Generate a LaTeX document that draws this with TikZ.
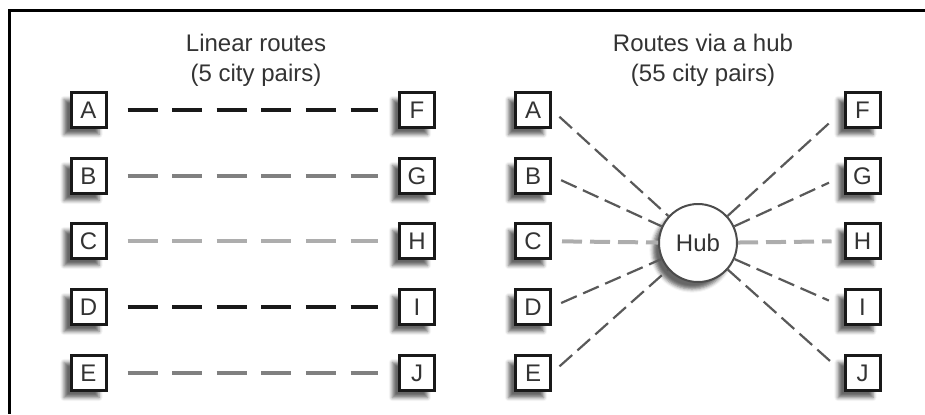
\documentclass[tikz,border=0pt]{standalone}
\usepackage{fontspec}
\setmainfont{Liberation Sans}
\usetikzlibrary{shadows.blur}

\begin{document}
\begin{tikzpicture}[x=0.5pt,y=-0.5pt,
  city/.style={draw=black!90,line width=1.5pt,fill=white,minimum size=17.5pt,inner sep=0pt,
    font=\fontsize{12}{14}\selectfont,text=black!80,
    blur shadow={shadow xshift=-3.5pt,shadow yshift=-3.5pt,shadow blur radius=1.8pt,shadow opacity=60}},
  pairline/.style={line width=1.6pt,dash pattern=on 15pt off 7.3pt,shorten <=10pt,shorten >=10pt},
  spoke/.style={black!65,line width=1.1pt,dash pattern=on 8.5pt off 3.5pt},
  lightspoke/.style={black!32,line width=2pt,dash pattern=on 10pt off 4pt},
  title/.style={align=center,font=\fontsize{12}{15}\selectfont,text=black!80}]
\useasboundingbox (0,0) rectangle (925,414);
% frame
\draw[line width=1.4pt] (925,10.5) -- (9.5,10.5) -- (9.5,414);

% titles
\node[title] (lintitle) at (256,60) {Linear routes\\(5 city pairs)};
\node[title] (hubtitle) at (703,60) {Routes via a hub\\(55 city pairs)};

% linear routes
\foreach \l/\r/\y/\c in {A/F/110/black!90,B/G/176/black!50,C/H/241/black!32,D/I/307/black!90,E/J/373/black!50}{
  \node[city] (l\l) at (88.5,\y) {\l};
  \node[city] (l\r) at (417,\y) {\r};
  \draw[pairline,\c] (l\l) -- (l\r);
}

% routes via a hub
\node[circle,draw=black!70,line width=1pt,fill=white,minimum size=39pt,inner sep=0pt,
  font=\fontsize{12}{14}\selectfont,text=black!80,
  blur shadow={shadow xshift=-3pt,shadow yshift=-3.5pt,shadow blur radius=1.8pt,shadow opacity=60}] (hub) at (698,243) {Hub};
\foreach \l/\r/\y in {A/F/110,B/G/176,C/H/241,D/I/307,E/J/373}{
  \node[city] (h\l) at (533,\y) {\l};
  \node[city] (h\r) at (862.5,\y) {\r};
}
\foreach \l in {A,B,D,E}
  \draw[spoke,shorten <=5pt] (h\l.east) -- (hub);
\foreach \r in {F,G,I,J}
  \draw[spoke,shorten >=8pt] (hub) -- (h\r.west);
\draw[lightspoke,shorten <=5pt] (hC) -- (hub);
\draw[lightspoke,shorten >=6pt] (hub) -- (hH);
\end{tikzpicture}
\end{document}
